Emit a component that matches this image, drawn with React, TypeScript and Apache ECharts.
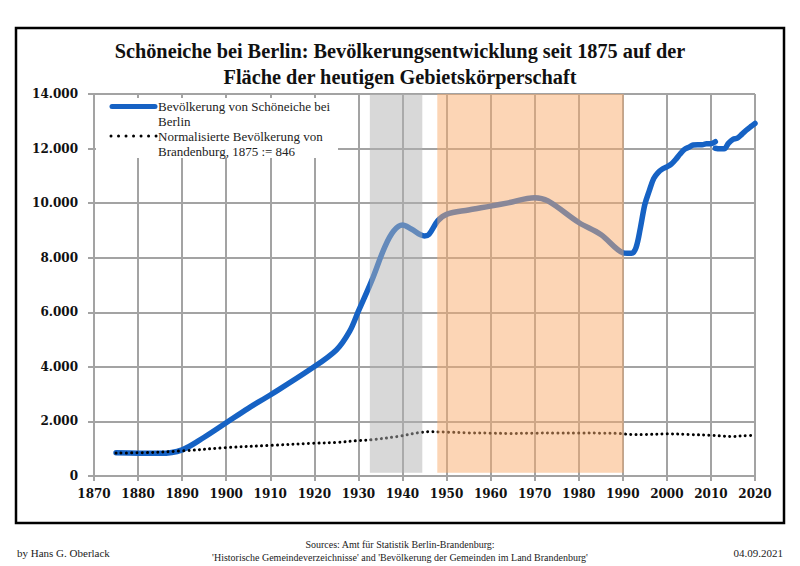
import React, { useEffect, useRef } from "react";
import * as echarts from "echarts";

// Population of Schöneiche bei Berlin
const popYears = [1875, 1880, 1885, 1890, 1895, 1900, 1905, 1910, 1919, 1925, 1928, 1930, 1933, 1936, 1938, 1940, 1942, 1945, 1946, 1948, 1950, 1955, 1960, 1964, 1970, 1973, 1980, 1985, 1990, 1991, 1992, 1993, 1994, 1995, 1996, 1997, 1998, 1999, 2000, 2001, 2002, 2003, 2004, 2005, 2006, 2007, 2008, 2009, 2010, 2011];
const popValues = [850, 835, 830, 960, 1420, 1950, 2480, 2970, 3900, 4620, 5300, 6040, 7150, 8400, 8980, 9200, 9050, 8800, 8850, 9350, 9590, 9750, 9890, 10010, 10200, 10080, 9290, 8850, 8180, 8160, 8160, 8370, 9100, 9950, 10450, 10900, 11120, 11250, 11330, 11430, 11600, 11800, 11970, 12050, 12130, 12140, 12140, 12180, 12180, 12250];
// after the 2011 census
const popYears2 = [2011, 2012, 2013, 2014, 2015, 2016, 2017, 2018, 2019, 2020];
const popValues2 = [12010, 11990, 11990, 12200, 12340, 12380, 12520, 12670, 12800, 12920];

// Normalised population of Brandenburg, 1875 := 846
const bbYears = [1875, 1880, 1890, 1900, 1910, 1920, 1925, 1930, 1933, 1939, 1946, 1950, 1955, 1960, 1964, 1970, 1975, 1980, 1985, 1989, 1990, 1992, 1995, 2000, 2005, 2010, 2013, 2015, 2017, 2020];
const bbValues = [846, 850, 920, 1040, 1120, 1200, 1230, 1300, 1330, 1450, 1620, 1610, 1580, 1570, 1560, 1570, 1575, 1575, 1570, 1560, 1545, 1520, 1520, 1545, 1520, 1490, 1460, 1450, 1470, 1490];

// Shaded periods [start, end]
const grayPeriod = [1932.6, 1944.5];
const orangePeriod = [1947.9, 1990.2];

const xTicks = { min: 1870, max: 2020, interval: 10 };
const yTicks = { min: 0, max: 14000, interval: 2000 };

const titleLines = [
  "Schöneiche bei Berlin: Bevölkerungsentwicklung seit 1875 auf der",
  "Fläche der heutigen Gebietskörperschaft",
];
const legendNames = [
  ["Bevölkerung von Schöneiche bei", "Berlin"],
  ["Normalisierte Bevölkerung von", "Brandenburg, 1875 := 846"],
];

const BLUE = "#1662c4";
const GRID = "#a3a3a3";
const AXIS_FONT = "DejaVu Serif";
const SERIF = "Liberation Serif";

export default function App() {
  const ref = useRef<HTMLDivElement>(null);
  useEffect(() => {
    if (!ref.current) return;
    const chart = echarts.init(ref.current, null, { renderer: "svg" });
    const blueLine = {
      type: "line",
      showSymbol: false,
      smooth: 0.35,
      z: 2,
      lineStyle: { color: BLUE, width: 5.5, cap: "round", join: "round" },
      itemStyle: { color: BLUE },
    };
    chart.setOption({
      animation: false,
      backgroundColor: "#ffffff",
      title: {
        text: titleLines.join("\n"),
        left: "center",
        top: 33,
        textStyle: {
          fontFamily: SERIF,
          fontWeight: "bold",
          fontSize: 20.3,
          lineHeight: 26,
          color: "#111",
        },
      },
      grid: { left: 94, right: 45, top: 94, bottom: 90 },
      xAxis: {
        type: "value",
        min: xTicks.min,
        max: xTicks.max,
        interval: xTicks.interval,
        axisLine: { show: true, lineStyle: { color: GRID, width: 2 } },
        axisTick: { show: true, length: 5, lineStyle: { color: GRID, width: 2 } },
        splitLine: { show: true, lineStyle: { color: GRID, width: 2 } },
        axisLabel: {
          margin: 12,
          formatter: (v: number) => String(v),
          fontFamily: AXIS_FONT,
          fontWeight: "bold",
          fontSize: 12,
          color: "#111",
        },
      },
      yAxis: {
        type: "value",
        min: yTicks.min,
        max: yTicks.max,
        interval: yTicks.interval,
        axisLine: { show: true, lineStyle: { color: GRID, width: 2 } },
        axisTick: { show: true, length: 6, lineStyle: { color: GRID, width: 2 } },
        splitLine: { show: true, lineStyle: { color: GRID, width: 2 } },
        axisLabel: {
          margin: 16,
          formatter: (v: number) => String(v).replace(/\B(?=(\d{3})+(?!\d))/g, "."),
          fontFamily: AXIS_FONT,
          fontWeight: "bold",
          fontSize: 12,
          color: "#111",
        },
      },
      series: [
        {
          ...blueLine,
          name: legendNames[0].join(" "),
          data: popYears.map((y, i) => [y, popValues[i]]),
        },
        {
          ...blueLine,
          name: legendNames[0].join(" ") + " (2011)",
          data: popYears2.map((y, i) => [y, popValues2[i]]),
        },
        {
          type: "line",
          name: legendNames[1].join(" "),
          showSymbol: false,
          smooth: 0.35,
          z: 2,
          data: bbYears.map((y, i) => [y, bbValues[i]]),
          lineStyle: { color: "#000", width: 3, type: [0.01, 5.2], cap: "round" },
        },
        {
          type: "line",
          name: "periods",
          data: [],
          z: 10,
          clip: false,
          silent: true,
          markArea: {
            silent: true,
            z: 10,
            itemStyle: { borderWidth: 0 },
            data: [
              [
                { coord: [grayPeriod[0], 120], itemStyle: { color: "rgba(178,178,178,0.5)" } },
                { coord: [grayPeriod[1], 14130] },
              ],
              [
                { coord: [orangePeriod[0], 120], itemStyle: { color: "rgba(249,171,107,0.5)" } },
                { coord: [orangePeriod[1], 14130] },
              ],
            ],
          },
        },
      ],
      graphic: [
        {
          type: "rect",
          z: 100,
          shape: { x: 16, y: 28, width: 768, height: 495 },
          style: { fill: "none", stroke: "#000", lineWidth: 2.5 },
        },
        {
          type: "rect",
          z: 100,
          shape: { x: 96, y: 98, width: 242, height: 60 },
          style: { fill: "#fff", stroke: "none" },
        },
        {
          type: "line",
          z: 101,
          shape: { x1: 112, y1: 106.5, x2: 155, y2: 106.5 },
          style: { stroke: BLUE, lineWidth: 5, lineCap: "round" },
        },
        {
          type: "line",
          z: 101,
          shape: { x1: 111, y1: 136, x2: 157, y2: 136 },
          style: { stroke: "#000", lineWidth: 3, lineDash: [0.01, 7.5], lineCap: "round" },
        },
        {
          type: "text",
          z: 101,
          x: 158,
          y: 99,
          style: {
            text: legendNames[0].join("\n"),
            fontFamily: SERIF,
            fontSize: 13,
            lineHeight: 15,
            fill: "#222",
          },
        },
        {
          type: "text",
          z: 101,
          x: 158,
          y: 129,
          style: {
            text: legendNames[1].join("\n"),
            fontFamily: SERIF,
            fontSize: 13,
            lineHeight: 15,
            fill: "#222",
          },
        },
        {
          type: "text",
          x: 17,
          y: 547,
          style: { text: "by Hans G. Oberlack", fontFamily: SERIF, fontSize: 11, fill: "#222" },
        },
        {
          type: "text",
          x: 400,
          y: 538,
          style: {
            text: "Sources: Amt für Statistik Berlin-Brandenburg:\n'Historische Gemeindeverzeichnisse' and 'Bevölkerung der Gemeinden im Land Brandenburg'",
            fontFamily: SERIF,
            fontSize: 10,
            lineHeight: 13,
            align: "center",
            fill: "#222",
          },
        },
        {
          type: "text",
          x: 783,
          y: 547,
          style: { text: "04.09.2021", fontFamily: SERIF, fontSize: 11, align: "right", fill: "#222" },
        },
      ],
    });
    return () => chart.dispose();
  }, []);
  return (
    <div
      ref={ref}
      style={{ position: "fixed", left: 0, top: 0, width: 800, height: 566, background: "#fff" }}
    />
  );
}
